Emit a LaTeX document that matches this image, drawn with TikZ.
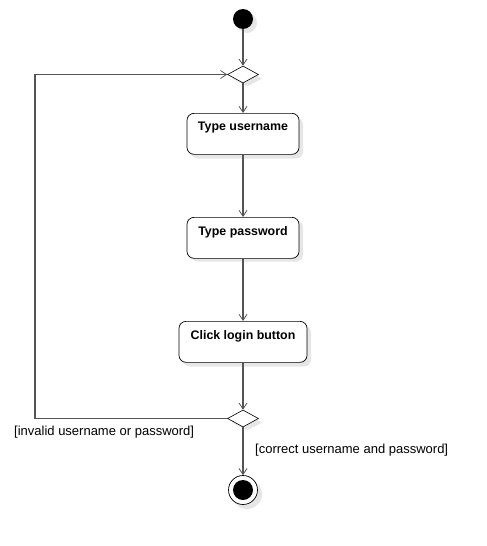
\documentclass[tikz,border=0pt]{standalone}
\usepackage{fontspec}
\setmainfont{Liberation Sans}
\usetikzlibrary{arrows.meta,shapes.geometric}
\definecolor{linec}{HTML}{555555}
\definecolor{shadowc}{HTML}{E6E6E6}
\tikzset{
  actbox/.style={draw=black, fill=white, rounded corners=7pt, line width=0.7pt,
    minimum height=41pt, inner sep=0pt},
  acttext/.style={font=\fontsize{12.4pt}{14pt}\selectfont\bfseries, inner sep=0pt},
  shadowbox/.style={fill=shadowc, rounded corners=7pt, minimum height=41pt, inner sep=0pt, draw=none},
  decision/.style={diamond, draw=black, fill=white, line width=0.6pt, minimum width=31pt, minimum height=17pt, inner sep=0pt, aspect=1.9},
  flow/.style={draw=linec, line width=1.2pt, -{Straight Barb[length=6pt,width=8pt,line width=0.8pt]}},
  guard/.style={font=\fontsize{13pt}{15pt}\selectfont, inner sep=0pt}
}
\begin{document}
\begin{tikzpicture}[x=1pt,y=-1pt]
\useasboundingbox (0,0) rectangle (487,546);
% shadows
\fill[shadowc] (247,23) circle (10);
\fill[shadowc] (247,70.5) -- (262,78.5) -- (247,86.5) -- (232,78.5) -- cycle;
\node[shadowbox, minimum width=112pt] at (247,138) {};
\node[shadowbox, minimum width=112pt] at (247,241) {};
\node[shadowbox, minimum width=128pt] at (247,346) {};
\fill[shadowc] (247,414.5) -- (262,422.5) -- (247,430.5) -- (232,422.5) -- cycle;
\fill[shadowc] (247,494) circle (15);
% nodes
\node[circle, fill=black, minimum size=20pt, inner sep=0pt] (start) at (243,19) {};
\node[decision] (d1) at (243,74.5) {};
\node[actbox, minimum width=112pt, anchor=north] (u) at (243,113) {};
\node[acttext] (ut) at (243,128) {Type username};
\node[actbox, minimum width=112pt, anchor=north] (p) at (243,217) {};
\node[acttext] (pt) at (243,232) {Type password};
\node[actbox, minimum width=128pt, anchor=north] (c) at (243,321) {};
\node[acttext] (ct) at (243,336) {Click login button};
\node[decision] (d2) at (243,418.5) {};
\node[circle, draw=black, fill=white, line width=0.7pt, minimum size=29pt, inner sep=0pt] (end) at (243,490) {};
\fill[black] (end.center) circle (10);
\coordinate (lb) at (35,418.5);
\coordinate (lt) at (35,74.5);
% flows
\draw[flow] (start) -- (d1);
\draw[flow] (d1) -- (u);
\draw[flow] (u) -- (p);
\draw[flow] (p) -- (c);
\draw[flow] (c) -- (d2);
\draw[flow] (d2) -- (end);
\draw[flow] (d2.west) -- (lb) -- (lt) -- (d1.west);
% guards
\node[guard, anchor=west] (g1) at (14,432) {[invalid username or password]};
\node[guard, anchor=west] (g2) at (255,450.5) {[correct username and password]};
\end{tikzpicture}
\end{document}
